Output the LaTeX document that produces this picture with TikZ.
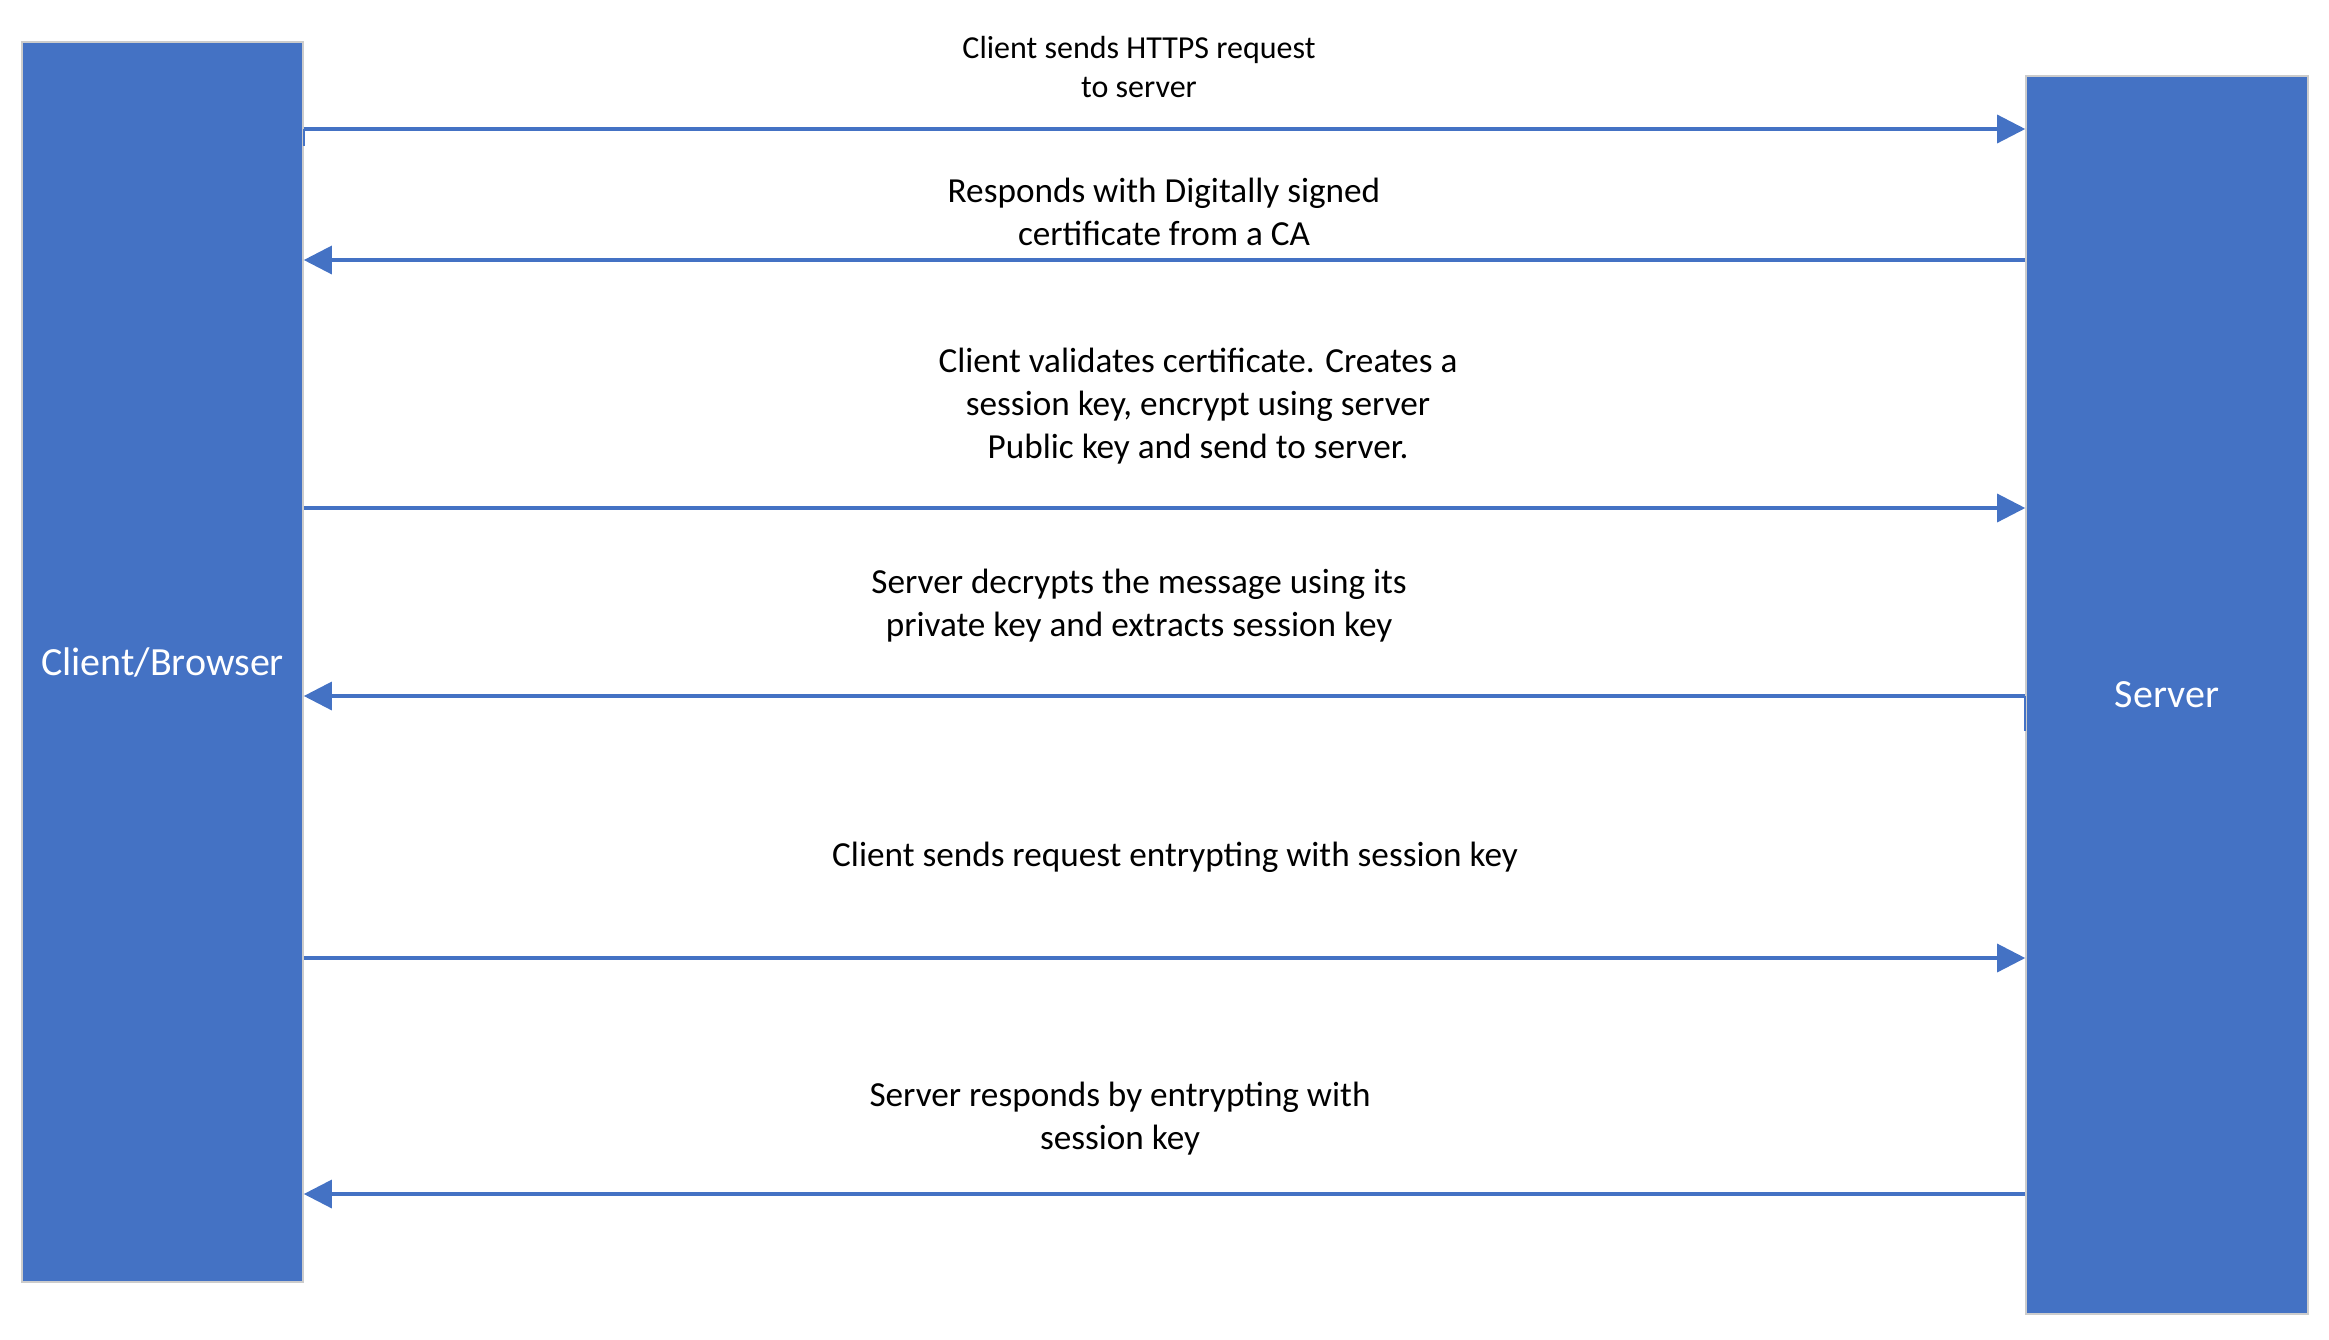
\documentclass[tikz,border=0pt]{standalone}
\usepackage{fontspec}
\setmainfont{Carlito}
\usetikzlibrary{arrows.meta}
\definecolor{boxblue}{HTML}{4472C4}
\begin{document}
\begin{tikzpicture}[x=0.25pt,y=-0.25pt,
  side_node/.style={rectangle,fill=boxblue,draw=black!20,line width=0.4pt,inner sep=0pt,text=white,font=\fontsize{10}{12}\selectfont},
  msg/.style={draw=boxblue,line width=0.8pt,-{Triangle[length=7pt,width=7pt]}},
  note_node/.style={align=center,inner sep=0pt,font=\fontsize{8.8}{10.75}\selectfont}]

\useasboundingbox (0,0) rectangle (2329,1339);

\node[side_node,minimum width=70.25pt,minimum height=310pt] (client) at (162.5,662) {Client/Browser};
\node[side_node,minimum width=70.5pt,minimum height=309.5pt] (server) at (2167,695) {Server};

\coordinate (m1) at (0,129);
\coordinate (m2) at (0,260);
\coordinate (m3) at (0,508);
\coordinate (m4) at (0,696);
\coordinate (m5) at (0,958);
\coordinate (m6) at (0,1194);

\draw[msg] (client.east |- m1) -- (server.west |- m1);
\draw[msg] (server.west |- m2) -- (client.east |- m2);
\draw[msg] (client.east |- m3) -- (server.west |- m3);
\draw[msg] (server.west |- m4) -- (client.east |- m4);
\draw[msg] (client.east |- m5) -- (server.west |- m5);
\draw[msg] (server.west |- m6) -- (client.east |- m6);

% small stubs where the lines join the boxes
\draw[boxblue,line width=0.6pt] (client.east |- m1) -- ++(0,17);
\draw[boxblue,line width=0.6pt] (server.west |- m4) -- ++(0,35);

\node[note_node,font=\fontsize{8}{9.6}\selectfont] (t1) at (1139,67) {Client sends HTTPS request\\to server};
\node[note_node] (t2) at (1164,212) {Responds with Digitally signed\\certificate from a CA};
\node[note_node] (t3) at (1198,406) {Client validates certificate. Creates a\\session key, encrypt using server\\Public key and send to server.};
\node[note_node] (t4) at (1139,606) {Server decrypts the message using its\\private key and extracts session key};
\node[note_node] (t5) at (1175,857) {Client sends request entrypting with session key};
\node[note_node] (t6) at (1120,1119) {Server responds by entrypting with\\session key};
\end{tikzpicture}
\end{document}
